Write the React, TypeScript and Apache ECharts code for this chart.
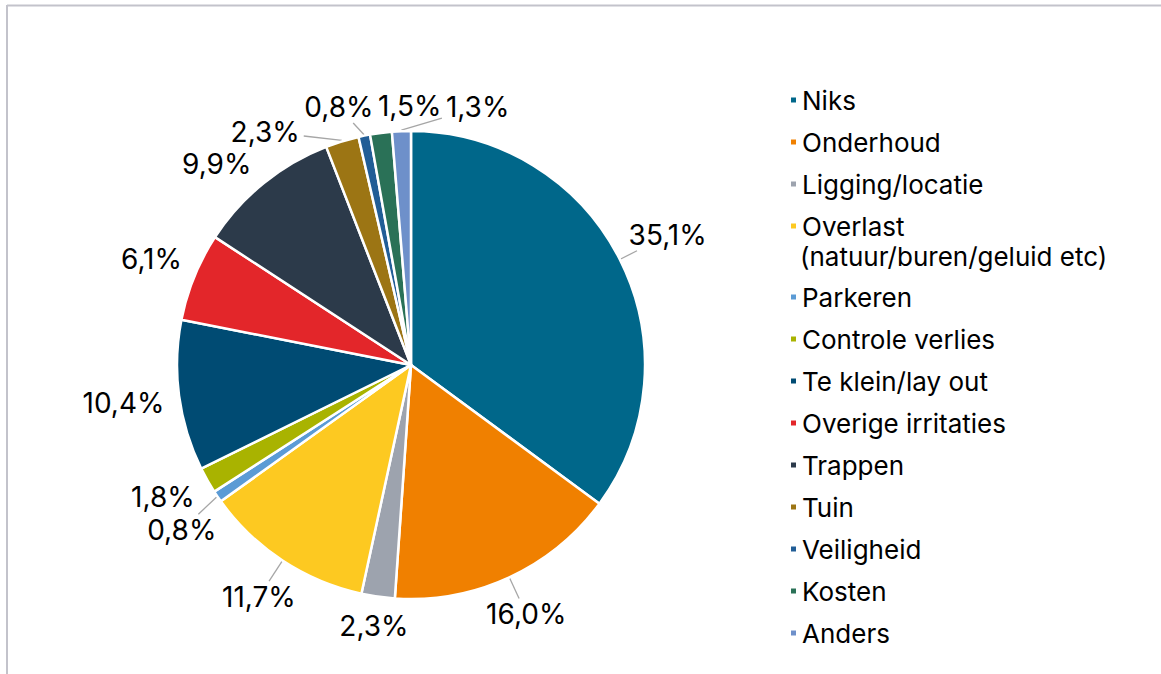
import React, { useEffect, useRef } from "react";
import * as echarts from "echarts";

const categories = [
  "Niks",
  "Onderhoud",
  "Ligging/locatie",
  "Overlast",
  "Parkeren",
  "Controle verlies",
  "Te klein/lay out",
  "Overige irritaties",
  "Trappen",
  "Tuin",
  "Veiligheid",
  "Kosten",
  "Anders",
];
const overlastSubtitle = "(natuur/buren/geluid etc)";
const values = [35.1, 16.0, 2.3, 11.7, 0.8, 1.8, 10.4, 6.1, 9.9, 2.3, 0.8, 1.5, 1.3];
const colors = [
  "#00678A",
  "#F08000",
  "#9DA3AE",
  "#FDC921",
  "#5B9BD5",
  "#A9B300",
  "#004B73",
  "#E3262A",
  "#2C3A4A",
  "#9C7514",
  "#215D96",
  "#2A7157",
  "#6E90CA",
];

const FONT = "Inter";
const LABEL_SIZE = 28;
const LEGEND_SIZE = 26;
const CX = 411;
const CY = 365;
const R = 234;
const GAP = 14;

const fmt = (v: number) => v.toFixed(1).replace(".", ",") + "%";

function computeLabelLayout() {
  const total = values.reduce((a, b) => a + b, 0);
  let acc = 0;
  const mids = values.map((v) => {
    const m = ((acc + v / 2) / total) * Math.PI * 2;
    acc += v;
    return m;
  });
  const canvas = document.createElement("canvas");
  const ctx = canvas.getContext("2d")!;
  ctx.font = `${LABEL_SIZE}px ${FONT}`;
  const ws = values.map((v) => ctx.measureText(fmt(v)).width);
  const h = LABEL_SIZE * 0.75;
  const hBox = 32;
  const phis = mids.slice();
  const pos = (i: number) => {
    const dx = Math.sin(phis[i]);
    const dy = -Math.cos(phis[i]);
    const D = R + GAP + (Math.abs(dx) * ws[i]) / 2 + (Math.abs(dy) * h) / 2;
    return [CX + D * dx, CY + D * dy];
  };
  const n = values.length;
  for (let it = 0; it < 3000; it++) {
    let moved = false;
    const ps = phis.map((_, i) => pos(i));
    for (let i = 0; i < n; i++) {
      for (let j = i + 1; j < n; j++) {
        const ox = (ws[i] + ws[j]) / 2 + 4 - Math.abs(ps[i][0] - ps[j][0]);
        const oy = hBox - Math.abs(ps[i][1] - ps[j][1]);
        if (ox > 0 && oy > 0) {
          let diff = phis[j] - phis[i];
          while (diff > Math.PI) diff -= Math.PI * 2;
          while (diff < -Math.PI) diff += Math.PI * 2;
          const s = diff >= 0 ? 1 : -1;
          phis[i] -= 0.002 * s;
          phis[j] += 0.002 * s;
          moved = true;
        }
      }
    }
    if (!moved) break;
  }
  return values.map((_, i) => {
    const [lx, ly] = pos(i);
    const px = CX + (R + 1) * Math.sin(mids[i]);
    const py = CY - (R + 1) * Math.cos(mids[i]);
    const vx = px - lx;
    const vy = py - ly;
    const tx = Math.abs(vx) > 1e-6 ? (ws[i] / 2 + 4) / Math.abs(vx) : Infinity;
    const ty = Math.abs(vy) > 1e-6 ? (h / 2 + 5) / Math.abs(vy) : Infinity;
    const t = Math.min(tx, ty, 1);
    const qx = lx + vx * t;
    const qy = ly + vy * t;
    const len = Math.hypot(px - qx, py - qy);
    const pts = len > 16 ? [[px, py], [qx, qy]] : [[px, py], [px, py]];
    return { x: lx, y: ly, pts };
  });
}

export default function App() {
  const ref = useRef<HTMLDivElement>(null);
  useEffect(() => {
    if (!ref.current) return;
    const chart = echarts.init(ref.current, null, { renderer: "svg" });
    const layout = computeLabelLayout();
    const data = categories.map((name, i) => ({
      name,
      value: values[i],
      itemStyle: { color: colors[i] },
    }));
    const legendText = {
      fontFamily: FONT,
      fontSize: LEGEND_SIZE,
      color: "#000",
      lineHeight: 30,
    };
    const legendBase = {
      orient: "vertical",
      left: 784,
      itemWidth: 7,
      itemHeight: 7,
      itemGap: 12,
      icon: "rect",
      selectedMode: false,
      textStyle: legendText,
    };
    chart.setOption({
      animation: false,
      backgroundColor: "#fff",
      legend: [
        { ...legendBase, top: 80, data: categories.slice(0, 4) },
        { ...legendBase, top: 277, data: categories.slice(4) },
      ],
      graphic: [
        {
          type: "line",
          shape: { x1: 7, y1: 5.5, x2: 1161, y2: 5.5 },
          style: { stroke: "#C3C3CB", lineWidth: 2 },
        },
        {
          type: "line",
          shape: { x1: 7, y1: 5, x2: 7, y2: 674 },
          style: { stroke: "#C3C3CB", lineWidth: 2 },
        },
        {
          type: "text",
          left: 800,
          top: 243,
          style: {
            text: overlastSubtitle,
            font: `${LEGEND_SIZE}px ${FONT}`,
            fill: "#000",
          },
        },
      ],
      series: [
        {
          type: "pie",
          center: [CX, CY],
          radius: [0, R],
          startAngle: 90,
          clockwise: true,
          avoidLabelOverlap: false,
          itemStyle: { borderColor: "#fff", borderWidth: 2.5 },
          label: {
            show: true,
            position: "outside",
            fontFamily: FONT,
            fontSize: LABEL_SIZE,
            color: "#000",
            formatter: (p: any) => fmt(p.value),
          },
          labelLine: {
            show: true,
            length: 10,
            length2: 10,
            lineStyle: { color: "#A6A6A6", width: 1.3 },
          },
          labelLayout: (p: any) => {
            const l = layout[p.dataIndex];
            return {
              x: l.x,
              y: l.y,
              align: "center",
              verticalAlign: "middle",
              labelLinePoints: l.pts,
            };
          },
          data,
        },
      ],
    });
    return () => chart.dispose();
  }, []);
  return (
    <div
      ref={ref}
      style={{ position: "fixed", left: 0, top: 0, width: 1161, height: 674 }}
    />
  );
}
